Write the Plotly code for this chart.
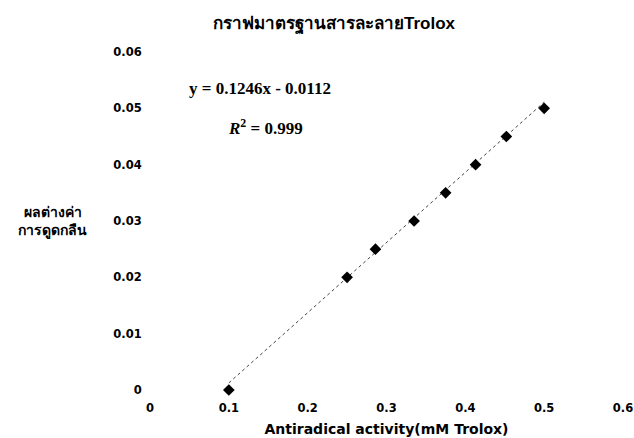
import plotly.graph_objects as go

# Data
conc_mM = [0.1, 0.25, 0.286, 0.335, 0.375, 0.413, 0.452, 0.5]
abs_diff = [0.0, 0.02, 0.025, 0.03, 0.035, 0.04, 0.045, 0.05]
slope = 0.1246
intercept = -0.0112
r_squared = 0.999
trend_x = [0.1, 0.5]
x_ticks = [0, 0.1, 0.2, 0.3, 0.4, 0.5, 0.6]
x_tick_labels = ["0", "0.1", "0.2", "0.3", "0.4", "0.5", "0.6"]
y_ticks = [0, 0.01, 0.02, 0.03, 0.04, 0.05, 0.06]
y_tick_labels = ["0", "0.01", "0.02", "0.03", "0.04", "0.05", "0.06"]

trend_y = [slope * x + intercept for x in trend_x]

W, H = 634, 438
L, R, T, B = 150, 11, 52, 48
PW = W - L - R
PH = H - T - B


def px(sx):
    return (sx - L) / PW


def py(sy):
    return (H - B - sy) / PH


fig = go.Figure()
fig.add_trace(go.Scatter(
    x=trend_x, y=trend_y, mode="lines",
    line=dict(color="#444444", width=1, dash="dot"),
    hoverinfo="skip", showlegend=False,
))
fig.add_trace(go.Scatter(
    x=conc_mM, y=abs_diff, mode="markers",
    marker=dict(symbol="diamond", size=9, color="black"),
    showlegend=False, cliponaxis=False,
))

tick_font = dict(family="DejaVu Sans, Verdana, sans-serif", size=11.5, color="black")

fig.update_layout(
    width=W, height=H,
    margin=dict(l=L, r=R, t=T, b=B),
    paper_bgcolor="white", plot_bgcolor="white",
    title=dict(
        text="<b>กราฟมาตรฐานสารละลายTrolox</b>",
        x=334 / W, xanchor="center", y=1 - 23 / H, yanchor="middle",
        font=dict(family="Liberation Sans, Arial, sans-serif", size=17, color="black"),
    ),
    xaxis=dict(
        range=[0, 0.6], tickvals=x_ticks, ticktext=["<b>%s</b>" % t for t in x_tick_labels],
        showgrid=False, zeroline=False, showline=False, automargin=False,
        ticks="outside", ticklen=7, tickcolor="rgba(0,0,0,0)",
        tickfont=tick_font, ticklabeloverflow="allow",
        title=dict(text="<b>Antiradical activity(mM Trolox)</b>", standoff=10,
                   font=dict(family="DejaVu Sans, Verdana, sans-serif", size=14, color="black")),
    ),
    yaxis=dict(
        range=[0, 0.06], tickvals=y_ticks, ticktext=["<b>%s</b>" % t for t in y_tick_labels],
        showgrid=False, zeroline=False, showline=False, automargin=False,
        ticks="outside", ticklen=5, tickcolor="rgba(0,0,0,0)",
        tickfont=tick_font,
    ),
    annotations=[
        dict(text="<b>ผลต่างค่า<br>การดูดกลืน</b>", xref="paper", yref="paper",
             x=px(52), y=py(221), xanchor="center", yanchor="middle",
             showarrow=False, align="center",
             font=dict(family="Liberation Sans, Arial, sans-serif", size=14, color="black")),
        dict(text="<b>y = %.4fx - %.4f</b>" % (slope, -intercept), xref="paper", yref="paper",
             x=px(260), y=py(88), xanchor="center", yanchor="middle",
             showarrow=False,
             font=dict(family="Liberation Serif, Times New Roman, serif", size=17, color="black")),
        dict(text="<b><i>R</i><sup>2</sup> = %.3f</b>" % r_squared, xref="paper", yref="paper",
             x=px(265), y=py(127), xanchor="center", yanchor="middle",
             showarrow=False,
             font=dict(family="Liberation Serif, Times New Roman, serif", size=17, color="black")),
    ],
)

fig.write_html("out.html", config={"displayModeBar": False},
               post_script="document.body.style.margin='0';")
